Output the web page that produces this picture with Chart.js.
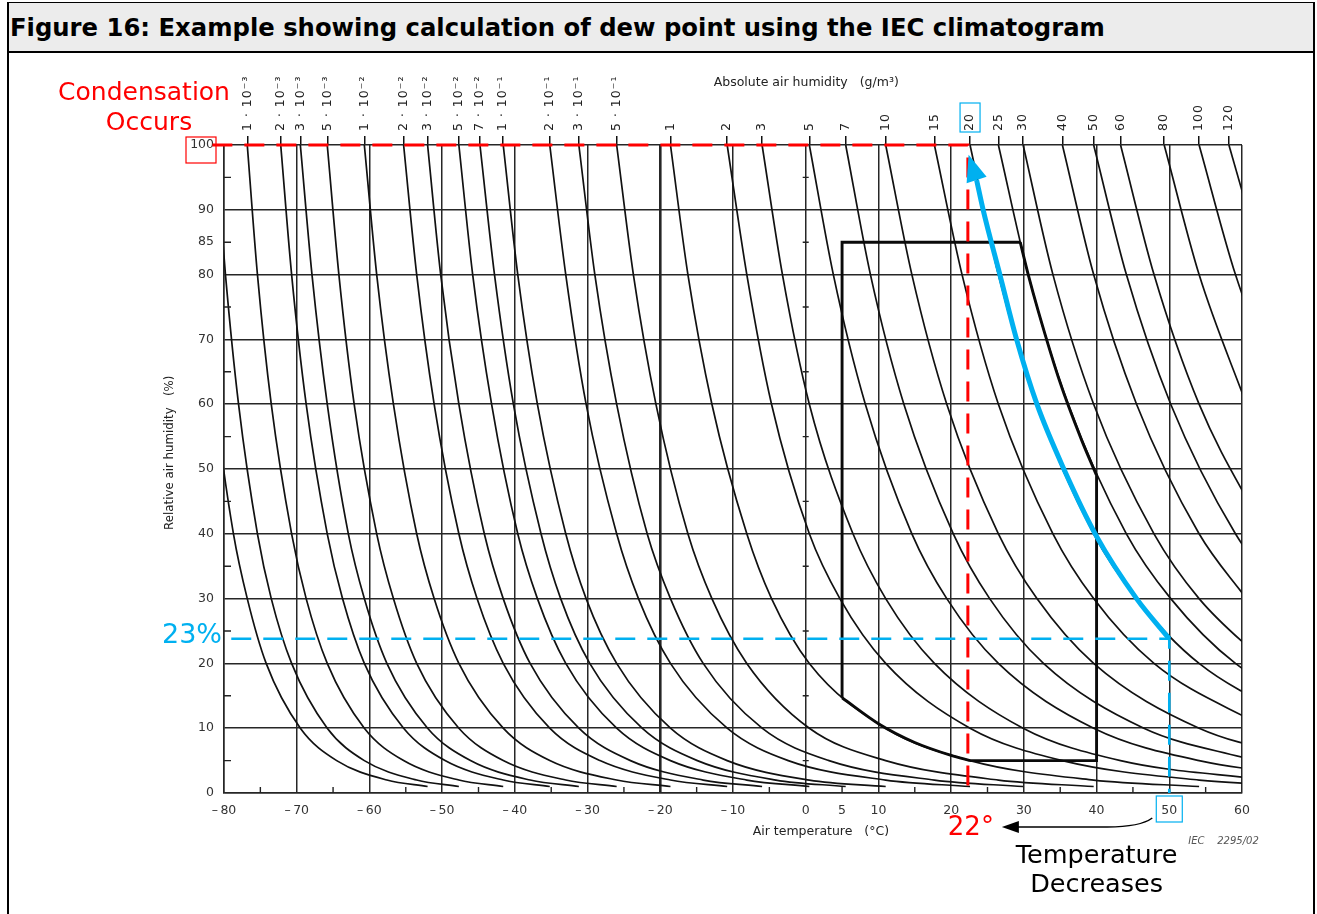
<!DOCTYPE html>
<html>
<head>
<meta charset="utf-8">
<script src="https://cdn.jsdelivr.net/npm/chart.js@4.4.1/dist/chart.umd.min.js"></script>
<style>
  body { margin: 0; background: #fff; }
  #page { position: relative; width: 1317px; height: 914px; overflow: hidden; background: #fff; }
  #frame { position: absolute; left: 7px; top: 2px; width: 1308px; height: 930px; box-sizing: border-box;
           border: 2px solid #000; border-top-width: 1px; }
  #title { position: absolute; left: 9px; top: 3px; width: 1304px; height: 50px; box-sizing: border-box;
           background: #ececec; border-bottom: 2px solid #000; padding-left: 1px; white-space: nowrap;
           font: bold 24.3px 'DejaVu Sans', sans-serif; line-height: 50px; color: #000; }
  canvas { position: absolute; left: 0; top: 0; }
</style>
</head>
<body>
<div id="page">
  <canvas id="chart" width="1317" height="914"></canvas>
  <div id="frame"></div>
  <div id="title">Figure 16: Example showing calculation of dew point using the IEC climatogram</div>
</div>
<script>
// ── Axes ──────────────────────────────────────────────────────────────────────
const tempTicks      = [-80, -70, -60, -50, -40, -30, -20, -10, 0, 5, 10, 20, 30, 40, 50, 60];
const rhTicks        = [0, 10, 20, 30, 40, 50, 60, 70, 80, 85, 90, 100];
const minorTempTicks = [-75, -65, -55, -45, -35, -25, -15, -5, 5, 15, 25, 35, 45, 55];
const minorRhTicks   = [5, 15, 25, 35, 45, 55, 65, 75, 85, 95];

// ── Isolines of absolute humidity (g/m³) ─────────────────────────────────────
// each row: air temperature (°C) where the line crosses the rhLevels below
const rhLevels = [100, 80, 60, 40, 30, 20, 10, 5, 2, 1];
const isolineLabels = ['', '', '1 · 10⁻³', '2 · 10⁻³', '3 · 10⁻³', '5 · 10⁻³', '1 · 10⁻²', '2 · 10⁻²',
  '3 · 10⁻²', '5 · 10⁻²', '7 · 10⁻²', '1 · 10⁻¹', '2 · 10⁻¹', '3 · 10⁻¹', '5 · 10⁻¹',
  '1', '2', '3', '5', '7', '10', '15', '20', '25', '30', '40', '50', '60', '80', '100', '120'];
const isolineTemps = [
  [-84.3, -83.0, -81.2, -78.7, -76.8, -74.2, -69.5, -64.5, -57.6, -52.0],
  [-81.2, -79.8, -78.0, -75.4, -73.5, -70.7, -65.8, -60.7, -53.5, -47.7],
  [-76.8, -75.4, -73.5, -70.7, -68.7, -65.8, -60.7, -55.3, -47.7, -41.6],
  [-72.2, -70.7, -68.7, -65.8, -63.7, -60.7, -55.3, -49.6, -41.6, -35.2],
  [-69.5, -67.9, -65.8, -62.9, -60.7, -57.6, -52.0, -46.1, -37.9, -31.2],
  [-65.8, -64.2, -62.1, -59.0, -56.7, -53.5, -47.7, -41.6, -33.0, -26.0],
  [-60.7, -59.0, -56.7, -53.5, -51.1, -47.7, -41.6, -35.2, -26.0, -18.6],
  [-55.3, -53.5, -51.1, -47.7, -45.2, -41.6, -35.2, -28.3, -18.6, -10.8],
  [-52.0, -50.2, -47.7, -44.2, -41.6, -37.9, -31.2, -24.1, -14.1, -6.0],
  [-47.7, -45.8, -43.2, -39.6, -36.9, -33.0, -26.0, -18.6, -8.1, 0.5],
  [-44.8, -42.8, -40.2, -36.4, -33.7, -29.7, -22.5, -14.9, -4.1, 5.5],
  [-41.6, -39.6, -36.9, -33.0, -30.2, -26.0, -18.6, -10.8, 0.5, 11.0],
  [-35.2, -33.0, -30.2, -26.0, -23.0, -18.6, -10.8, -2.4, 11.0, 22.6],
  [-31.2, -29.0, -26.0, -21.8, -18.6, -14.1, -6.0, 3.2, 17.7, 29.9],
  [-26.0, -23.7, -20.6, -16.2, -12.9, -8.1, 0.5, 11.0, 26.5, 39.6],
  [-18.6, -16.2, -12.9, -8.1, -4.7, 0.5, 11.0, 22.6, 39.6, 54.1],
  [-10.8, -8.1, -4.7, 0.5, 4.7, 11.0, 22.6, 35.3, 54.1, 70.2],
  [-6.0, -3.2, 0.5, 6.5, 11.0, 17.7, 29.9, 43.3, 63.3],
  [0.5, 3.8, 8.2, 14.6, 19.4, 26.5, 39.6, 54.1, 75.6],
  [5.5, 8.9, 13.5, 20.3, 25.3, 32.7, 46.5, 61.7],
  [11.0, 14.6, 19.4, 26.5, 31.8, 39.6, 54.1, 70.2],
  [17.7, 21.5, 26.5, 34.0, 39.6, 47.9, 63.3],
  [22.6, 26.5, 31.8, 39.6, 45.5, 54.1, 70.2],
  [26.5, 30.6, 36.1, 44.1, 50.2, 59.1, 75.6],
  [29.9, 34.0, 39.6, 47.9, 54.1, 63.3],
  [35.3, 39.6, 45.5, 54.1, 60.6],
  [39.6, 44.1, 50.2, 59.1, 65.8],
  [43.3, 47.9, 54.1, 63.3],
  [49.3, 54.1, 60.6],
  [54.1, 59.1, 65.8],
  [58.2, 63.3]
];

// ── Climatogram outline (°C / %) ──────────────────────────────────────────────
const boxLeftT        = [5, 5, 29.5];
const boxLeftRH       = [14.7, 85, 85];
const boxRightCurveT  = [29.5, 30.6, 32, 35, 38, 40];
const boxRightCurveRH = [85, 80, 74.3, 63.3, 54.3, 49];
const boxRightT       = [40, 40, 22.6];
const boxRightRH      = [49, 5, 5];
const boxLowCurveT    = [5, 10, 15, 20, 22.6];
const boxLowCurveRH   = [14.7, 10.7, 7.8, 5.8, 5];

// ── Worked example ────────────────────────────────────────────────────────────
const startTemp = 50;     // air temperature
const startRH   = 23.8;   // relative humidity read at start
const dewTemp   = 22.3;   // dew point
const coolingT  = [23.5, 24.4, 26.7, 29.0, 31.8, 35.5, 40, 45.5, 50];
const coolingRH = [94.6, 90, 80, 70, 60, 50, 39.6, 30, 23.8];
const coolingTip = { t: 22.4, rh: 98.5 };

const pts = (xs, ys) => xs.map((x, i) => ({ x, y: ys[i] }));

const datasets = [];
datasets.push({ data: pts(coolingT, coolingRH), borderColor: '#00b0f0', borderWidth: 5,
  cubicInterpolationMode: 'monotone', order: 1, clip: false });
datasets.push({ data: [{ x: -81.6, y: 100 }, { x: dewTemp, y: 100 }, { x: dewTemp, y: 0.4 }],
  borderColor: '#ff0000', borderWidth: 3, borderDash: [20, 12], order: 2, clip: false });
datasets.push({ data: [{ x: -79, y: startRH }, { x: startTemp, y: startRH }, { x: startTemp, y: 0 }],
  borderColor: '#00b0f0', borderWidth: 2.6, borderDash: [20, 12], order: 2, clip: false });
[[boxLeftT, boxLeftRH, false], [boxRightCurveT, boxRightCurveRH, true],
 [boxRightT, boxRightRH, false], [boxLowCurveT, boxLowCurveRH, true]].forEach(([xs, ys, curved]) => {
  datasets.push({ data: pts(xs, ys), borderColor: '#0a0a0a', borderWidth: 2.9, order: 5,
    cubicInterpolationMode: curved ? 'monotone' : 'default', borderJoinStyle: 'miter' });
});
isolineTemps.forEach(row => {
  datasets.push({ data: row.map((t, k) => ({ x: t, y: rhLevels[k] })), borderColor: '#111',
    borderWidth: 1.7, cubicInterpolationMode: 'monotone', order: 10 });
});
datasets.forEach(d => { d.showLine = true; d.pointRadius = 0; d.fill = false; });

// ── Drawing of labels, minor ticks and highlights ─────────────────────────────
const overlay = {
  id: 'overlay',
  afterDatasetsDraw(chart) {
    const { ctx, chartArea: a, scales: { x, y } } = chart;
    const px = v => x.getPixelForValue(v);
    const py = v => y.getPixelForValue(v);
    ctx.save();

    // minor ticks
    ctx.strokeStyle = '#222';
    ctx.lineWidth = 1.4;
    ctx.beginPath();
    minorTempTicks.forEach(t => { ctx.moveTo(px(t), a.bottom); ctx.lineTo(px(t), a.bottom - 6); });
    minorRhTicks.forEach(r => {
      ctx.moveTo(a.left, py(r)); ctx.lineTo(a.left + 7, py(r));
      ctx.moveTo(px(0) - 3, py(r)); ctx.lineTo(px(0) + 3, py(r));
    });
    ctx.stroke();

    // absolute humidity labels on top
    ctx.fillStyle = '#222';
    ctx.font = '12.5px "DejaVu Sans"';
    ctx.letterSpacing = '1px';
    ctx.textAlign = 'left';
    ctx.textBaseline = 'middle';
    isolineTemps.forEach((row, i) => {
      if (!isolineLabels[i]) return;
      ctx.save();
      ctx.translate(px(row[0]), a.top - 14);
      ctx.rotate(-Math.PI / 2);
      ctx.fillText(isolineLabels[i], 0, 0);
      ctx.restore();
    });
    ctx.letterSpacing = '0px';

    // axis titles
    ctx.font = '12.5px "DejaVu Sans"';
    ctx.fillText('Absolute air humidity   (g/m³)', px(0) - 92, a.top - 62);
    ctx.fillText('Air temperature   (°C)', px(0) - 53, a.bottom + 39);
    ctx.save();
    ctx.translate(a.left - 54, py(52.5));
    ctx.rotate(-Math.PI / 2);
    ctx.textAlign = 'center';
    ctx.font = '11.8px "DejaVu Sans"';
    ctx.fillText('Relative air humidity   (%)', 0, 0);
    ctx.restore();
    ctx.fillStyle = '#555';
    ctx.font = 'italic 10px "DejaVu Sans"';
    ctx.fillText('IEC    2295/02', px(startTemp) + 19, a.bottom + 48);

    // arrowhead of the cooling path
    const bx = px(coolingT[0]), by = py(coolingRH[0]);
    const tx = px(coolingTip.t), ty = py(coolingTip.rh);
    const ang = Math.atan2(ty - by, tx - bx);
    ctx.fillStyle = '#00b0f0';
    ctx.beginPath();
    ctx.moveTo(tx, ty);
    ctx.lineTo(bx + 10.5 * Math.cos(ang + Math.PI / 2), by + 10.5 * Math.sin(ang + Math.PI / 2));
    ctx.lineTo(bx + 10.5 * Math.cos(ang - Math.PI / 2), by + 10.5 * Math.sin(ang - Math.PI / 2));
    ctx.closePath();
    ctx.fill();

    // highlight boxes
    ctx.lineWidth = 1.2;
    ctx.strokeStyle = '#ff0000';
    ctx.strokeRect(a.left - 38, py(100) - 8, 30, 26);
    ctx.strokeStyle = '#00b0f0';
    ctx.strokeRect(px(isolineTemps[22][0]) - 10, a.top - 42, 20, 29);
    ctx.strokeRect(px(startTemp) - 13, a.bottom + 3, 26, 26);

    // notes
    ctx.textAlign = 'center';
    ctx.textBaseline = 'middle';
    ctx.fillStyle = '#ff0000';
    ctx.font = '25px "DejaVu Sans"';
    ctx.fillText('Condensation', a.left - 80, a.top - 52);
    ctx.fillText('Occurs', a.left - 75, a.top - 22);
    ctx.font = '26px "DejaVu Sans"';
    ctx.fillText('22°', px(dewTemp) + 3, a.bottom + 35);
    ctx.fillStyle = '#00b0f0';
    ctx.textAlign = 'right';
    ctx.font = '27px "DejaVu Sans"';
    ctx.fillText('23%', a.left - 2, py(startRH) - 3);
    ctx.fillStyle = '#000';
    ctx.textAlign = 'center';
    ctx.font = '25.5px "DejaVu Sans"';
    ctx.fillText('Temperature', px(40), a.bottom + 63);
    ctx.fillText('Decreases', px(40), a.bottom + 92);

    // "temperature decreases" arrow
    const ax0 = px(startTemp) - 17, ay0 = a.bottom + 25;
    const tipX = px(dewTemp) + 34, tipY = a.bottom + 34;
    ctx.strokeStyle = '#000';
    ctx.lineWidth = 1.5;
    ctx.beginPath();
    ctx.moveTo(ax0, ay0);
    ctx.quadraticCurveTo(ax0 - 12, tipY, ax0 - 45, tipY);
    ctx.lineTo(tipX + 14, tipY);
    ctx.stroke();
    ctx.fillStyle = '#000';
    ctx.beginPath();
    ctx.moveTo(tipX, tipY);
    ctx.lineTo(tipX + 17, tipY - 6);
    ctx.lineTo(tipX + 17, tipY + 6);
    ctx.closePath();
    ctx.fill();

    ctx.restore();
  }
};

const gridColor = '#262626';
const fmtTemp = v => (v < 0 ? '\u2013\u2009' + Math.abs(v) : String(v));

new Chart(document.getElementById('chart'), {
  type: 'scatter',
  data: { datasets },
  options: {
    responsive: false,
    animation: false,
    events: [],
    layout: { padding: { left: 164, right: 75, top: 65, bottom: 81 } },
    plugins: { legend: { display: false }, tooltip: { enabled: false } },
    scales: {
      x: {
        type: 'linear', position: 'bottom', min: -80, max: 60,
        afterBuildTicks: s => { s.ticks = tempTicks.map(value => ({ value })); },
        afterFit: s => { s.height = 40; },
        grid: {
          drawTicks: false,
          color: c => (c.tick && c.tick.value === 5 ? 'rgba(0,0,0,0)' : gridColor),
          lineWidth: c => (c.tick && c.tick.value === -20 ? 2.6 : 1.5)
        },
        border: { color: gridColor, width: 1.5 },
        ticks: { padding: 10, autoSkip: false, maxRotation: 0, color: '#333',
          font: { family: 'DejaVu Sans', size: 12.5 }, callback: fmtTemp }
      },
      xTop: {
        type: 'linear', position: 'top', min: -80, max: 60,
        afterBuildTicks: s => {
          s.ticks = isolineTemps.filter((r, i) => isolineLabels[i]).map(r => ({ value: r[0] }));
        },
        afterFit: s => { s.height = 80; },
        grid: { drawOnChartArea: false, drawTicks: true, tickLength: 9, color: '#111', lineWidth: 1.5 },
        border: { display: false },
        ticks: { display: false }
      },
      y: {
        type: 'linear', min: 0, max: 100,
        afterBuildTicks: s => { s.ticks = rhTicks.map(value => ({ value })); },
        afterFit: s => { s.width = 60; },
        grid: {
          drawTicks: false,
          color: c => (c.tick && c.tick.value === 85 ? 'rgba(0,0,0,0)' : gridColor),
          lineWidth: 1.5
        },
        border: { color: gridColor, width: 1.5 },
        ticks: { padding: 10, color: '#333', font: { family: 'DejaVu Sans', size: 12.5 } }
      }
    }
  },
  plugins: [overlay]
});
</script>
</body>
</html>
